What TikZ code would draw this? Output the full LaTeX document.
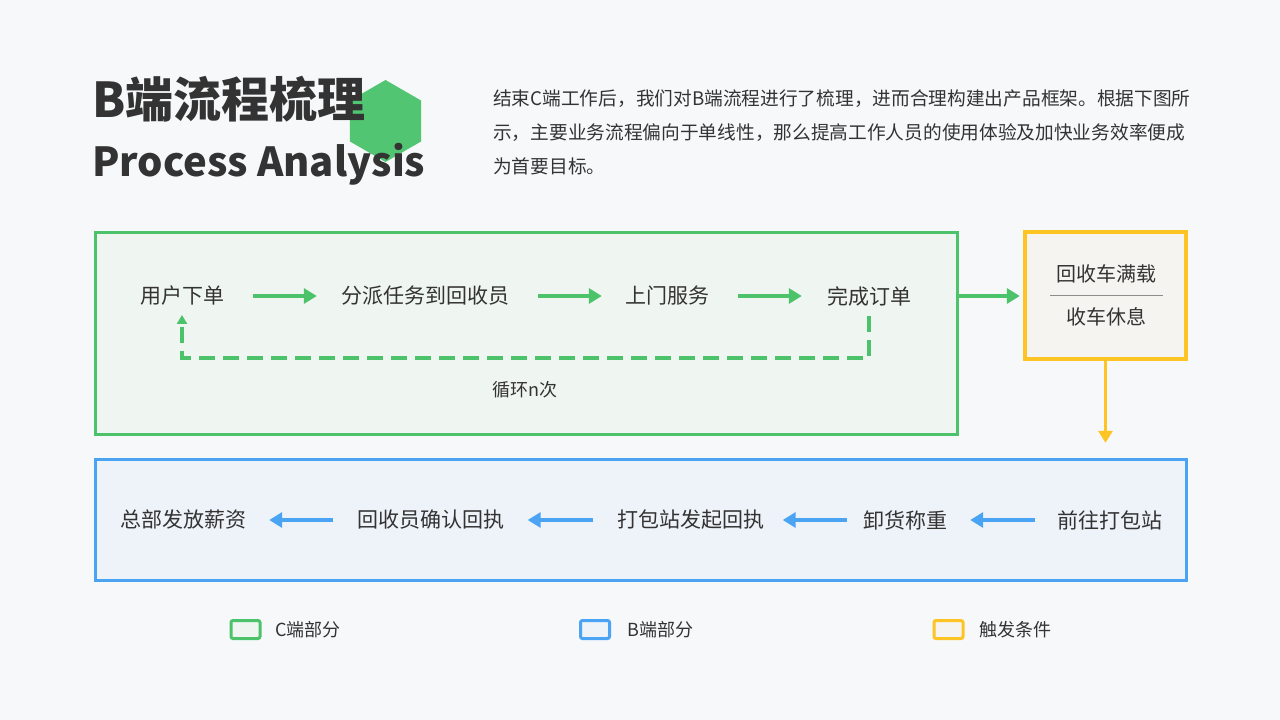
\documentclass[tikz,border=0pt]{standalone}
\usepackage{fontspec}
\setmainfont{Noto Sans CJK SC}
\usetikzlibrary{arrows.meta,shapes.geometric,calc}
\definecolor{bg}{HTML}{F6F8FA}
\definecolor{gstroke}{HTML}{4CC26A}
\definecolor{hexg}{HTML}{52C572}
\definecolor{bstroke}{HTML}{4BA3F4}
\definecolor{ystroke}{HTML}{FEC424}
\definecolor{gfill}{HTML}{EFF5F1}
\definecolor{bfill}{HTML}{EEF3FA}
\definecolor{yfill}{HTML}{F5F4F0}
\definecolor{txt}{HTML}{333333}
\tikzset{
  steptext/.style={inner sep=0pt, text=txt, font=\fontsize{21}{24}\selectfont},
  gflow/.style={draw=gstroke, line width=4.5pt, -{Triangle[length=13pt,width=15pt]}},
  bflow/.style={draw=bstroke, line width=4.5pt, -{Triangle[length=13pt,width=15pt]}},
  yflow/.style={draw=ystroke, line width=3.5pt, -{Triangle[length=12pt,width=14pt]}},
  legbox/.style={line width=3pt, rounded corners=2pt, minimum width=29pt, minimum height=18pt, inner sep=0pt},
  legtext/.style={inner sep=0pt, text=txt, anchor=west, font=\fontsize{18}{20}\selectfont},
  paratext/.style={inner sep=0pt, text=txt, anchor=base west, font=\fontsize{18.7}{22}\selectfont},
}
\begin{document}
\begin{tikzpicture}[x=1pt,y=-1pt]
\fill[bg] (0,0) rectangle (1280,720);
\useasboundingbox (0,0) rectangle (1280,720);
% hexagon
\node[regular polygon, regular polygon sides=6, shape border rotate=30, minimum size=82pt, inner sep=0pt, fill=hexg, draw=none] (hex) at (385.5,121) {};
% titles
\node[inner sep=0pt, anchor=base west, text=txt, font=\fontsize{48}{52}\bfseries\selectfont] (title) at (92,117) {B端流程梳理};
\node[inner sep=0pt, anchor=base west, text=txt, font=\fontsize{40}{46}\bfseries\selectfont] (subtitle) at (92,176) {Process Analysis};
% paragraph
\node[paratext] (p1) at (493,105) {结束C端工作后，我们对B端流程进行了梳理，进而合理构建出产品框架。根据下图所};
\node[paratext] (p2) at (493,139) {示，主要业务流程偏向于单线性，那么提高工作人员的使用体验及加快业务效率便成};
\node[paratext] (p3) at (493,173) {为首要目标。};
% boxes
\draw[draw=gstroke, fill=gfill, line width=3pt] (95,232) rectangle (957,434);
\node[inner sep=0pt, minimum width=862pt, minimum height=202pt] (gbox) at (526,333) {};
\draw[draw=bstroke, fill=bfill, line width=3pt] (95,459) rectangle (1186,580);
\node[inner sep=0pt, minimum width=1091pt, minimum height=121pt] (bbox) at (640.5,519.5) {};
\draw[draw=ystroke, fill=yfill, line width=3.5pt] (1025,232) rectangle (1186,359);
\node[inner sep=0pt, minimum width=161pt, minimum height=127pt] (ybox) at (1105.5,295.5) {};
% green steps
\node[steptext] (n1) at (182,296) {用户下单};
\node[steptext] (n2) at (425,296) {分派任务到回收员};
\node[steptext] (n3) at (667,296) {上门服务};
\node[steptext] (n4) at (869,296) {完成订单};
\draw[gflow, shorten <=29pt, shorten >=24pt] (n1) -- (n2);
\draw[gflow, shorten <=29pt, shorten >=23pt] (n2) -- (n3);
\draw[gflow, shorten <=29pt, shorten >=25pt] (n3) -- (n4);
% loop
\draw[draw=gstroke, line width=4pt, dash pattern=on 16pt off 8pt, -{Triangle[length=9pt,width=10pt]}, shorten <=10pt, shorten >=9pt]
  (n4.south) -- (n4.south |- 0,358) -| (n1.south);
\node[inner sep=0pt, text=txt, font=\fontsize{18}{20}\selectfont] (loop) at (525,390) {循环n次};
% trigger
\node[inner sep=0pt, text=txt, font=\fontsize{20}{22}\selectfont] (t1) at (1106,274) {回收车满载};
\node[inner sep=0pt, text=txt, font=\fontsize{20}{22}\selectfont] (t2) at (1106,317) {收车休息};
\draw[draw=gray!90, line width=1.5pt] (1050,295.5) -- (1163,295.5);
\draw[gflow, line width=4pt, shorten >=5pt] (gbox.east |- n4) -- (ybox.west |- n4);
\draw[yflow, shorten >=16pt] (ybox.south) -- (ybox.south |- bbox.north);
% blue steps
\node[steptext] (m1) at (1110,520) {前往打包站};
\node[steptext] (m2) at (905,520) {卸货称重};
\node[steptext] (m3) at (691,520) {打包站发起回执};
\node[steptext] (m4) at (431,520) {回收员确认回执};
\node[steptext] (m5) at (183,520) {总部发放薪资};
\draw[bflow, shorten <=22pt, shorten >=23pt] (m1) -- (m2);
\draw[bflow, shorten <=16pt, shorten >=18pt] (m2) -- (m3);
\draw[bflow, shorten <=24pt, shorten >=23pt] (m3) -- (m4);
\draw[bflow, shorten <=24pt, shorten >=23pt] (m4) -- (m5);
% legend
\node[legbox, draw=gstroke, fill=gfill] (lg) at (245.5,629.5) {};
\node[legtext] (lgt) at (275,630) {C端部分};
\node[legbox, draw=bstroke, fill=bfill] (lb) at (595,629.5) {};
\node[legtext] (lbt) at (627,630) {B端部分};
\node[legbox, draw=ystroke, fill=yfill] (ly) at (948.5,629.5) {};
\node[legtext] (lyt) at (979,630) {触发条件};
\end{tikzpicture}
\end{document}
